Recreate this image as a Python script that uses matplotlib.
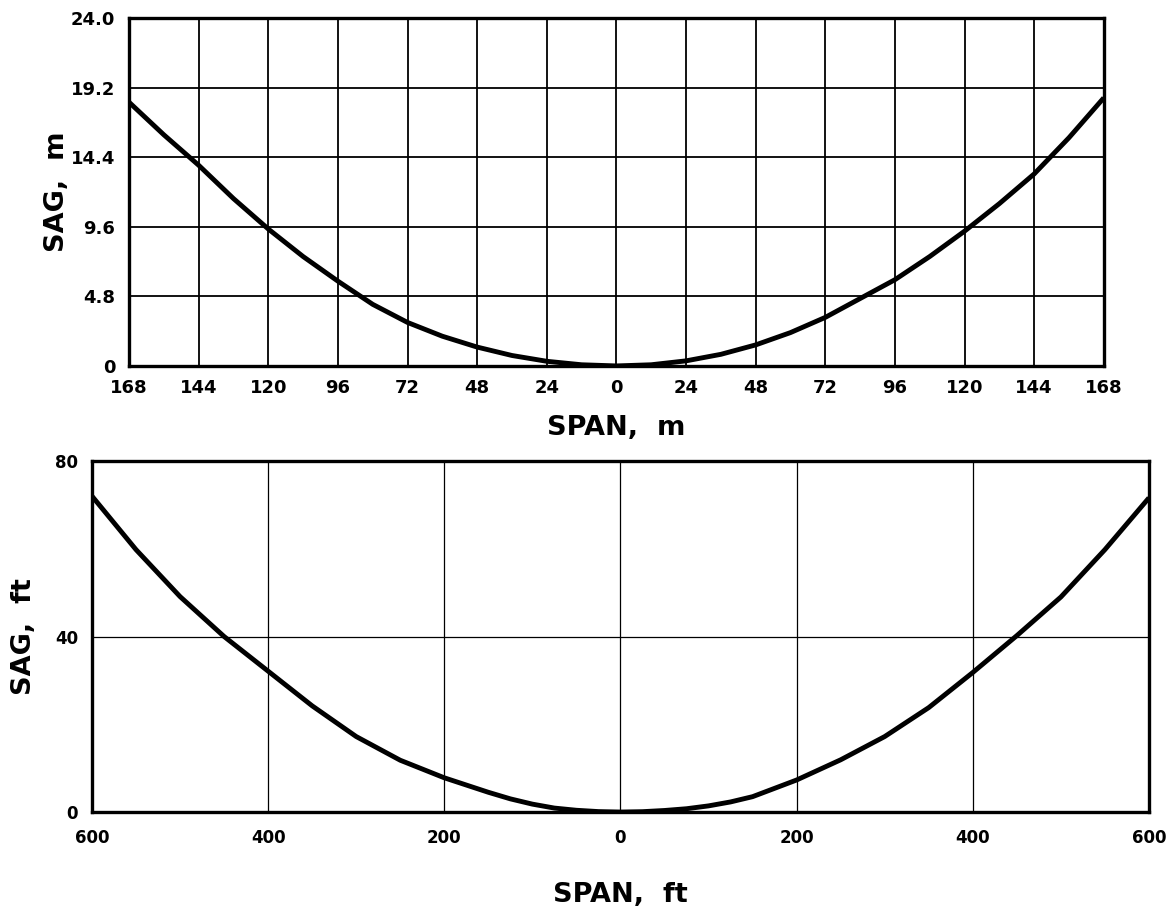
import matplotlib.pyplot as plt
from matplotlib.ticker import FixedLocator, FuncFormatter

# Sag of the conductor against horizontal distance from the low point, metric units
span_m = [-168, -156, -144, -132, -120, -108, -96, -84, -72, -60, -48, -36, -24, -12, 0,
          12, 24, 36, 48, 60, 72, 84, 96, 108, 120, 132, 144, 156, 168]
sag_m = [18.2, 15.95, 13.85, 11.55, 9.45, 7.55, 5.85, 4.25, 3.0, 2.05, 1.3, 0.72, 0.32, 0.08, 0.0,
         0.08, 0.35, 0.8, 1.45, 2.3, 3.35, 4.65, 5.95, 7.55, 9.3, 11.2, 13.25, 15.75, 18.5]
span_m_ticks = [-168, -144, -120, -96, -72, -48, -24, 0, 24, 48, 72, 96, 120, 144, 168]
sag_m_ticks = [0, 4.8, 9.6, 14.4, 19.2, 24.0]
sag_m_labels = ["0", "4.8", "9.6", "14.4", "19.2", "24.0"]

# Same curve in feet
span_ft = [-600, -550, -500, -450, -400, -350, -300, -250, -200, -150, -125, -100, -75, -50, -25, 0,
           25, 50, 75, 100, 125, 150, 200, 250, 300, 350, 400, 450, 500, 550, 600]
sag_ft = [72.0, 59.8, 49.1, 40.0, 32.1, 24.2, 17.2, 11.8, 7.8, 4.5, 3.0, 1.8, 0.9, 0.4, 0.1, 0.0,
          0.08, 0.35, 0.75, 1.4, 2.3, 3.5, 7.3, 11.9, 17.2, 23.8, 31.8, 40.2, 49.0, 59.8, 71.6]
span_ft_ticks = [-600, -400, -200, 0, 200, 400, 600]
sag_ft_ticks = [0, 40, 80]

FONT = "DejaVu Sans"

fig = plt.figure(figsize=(11.73, 9.08), dpi=100)
ax_m = fig.add_axes([0.110, 0.597, 0.831, 0.383])
ax_ft = fig.add_axes([0.0784, 0.1057, 0.9011, 0.3866])


def style_axes(ax, xticks, yticks, ylabels, grid_lw, xpad, ypad, size):
    ax.xaxis.set_major_locator(FixedLocator(xticks))
    ax.xaxis.set_major_formatter(FuncFormatter(lambda v, _: f"{abs(v):.0f}"))
    ax.set_yticks(yticks)
    ax.set_yticklabels(ylabels)
    ax.grid(True, color="black", linewidth=grid_lw)
    ax.set_axisbelow(True)
    for spine in ax.spines.values():
        spine.set_linewidth(2.4)
    ax.tick_params(axis="x", length=0, pad=xpad, labelsize=size)
    ax.tick_params(axis="y", length=0, pad=ypad, labelsize=size)
    for lbl in ax.get_xticklabels() + ax.get_yticklabels():
        lbl.set_fontfamily(FONT)
        lbl.set_fontweight("bold")


def set_titles(ax, xlabel, ylabel, xlabel_y, ylabel_x):
    ax.set_xlabel(xlabel, fontsize=19.5, fontweight="bold", family=FONT)
    ax.set_ylabel(ylabel, fontsize=19.5, fontweight="bold", family=FONT)
    ax.xaxis.label.set_va("center")
    ax.yaxis.label.set_va("center")
    ax.xaxis.set_label_coords(0.5, xlabel_y)
    ax.yaxis.set_label_coords(ylabel_x, 0.5)


ax_m.plot(span_m, sag_m, color="black", linewidth=3.5,
          solid_capstyle="butt", solid_joinstyle="round")
ax_m.set_xlim(-168, 168)
ax_m.set_ylim(0, 24)
style_axes(ax_m, span_m_ticks, sag_m_ticks, sag_m_labels, 1.3, 9.5, 10, 13)
set_titles(ax_m, "SPAN,  m", "SAG,  m", -0.178, -0.074)

ax_ft.plot(span_ft, sag_ft, color="black", linewidth=3.5,
           solid_capstyle="butt", solid_joinstyle="round")
ax_ft.set_xlim(-600, 600)
ax_ft.set_ylim(0, 80)
style_axes(ax_ft, span_ft_ticks, sag_ft_ticks, [str(v) for v in sag_ft_ticks], 0.9, 12, 10, 12)
set_titles(ax_ft, "SPAN,  ft", "SAG,  ft", -0.2365, -0.0643)

fig.savefig("out.png", dpi=100, facecolor="white")
